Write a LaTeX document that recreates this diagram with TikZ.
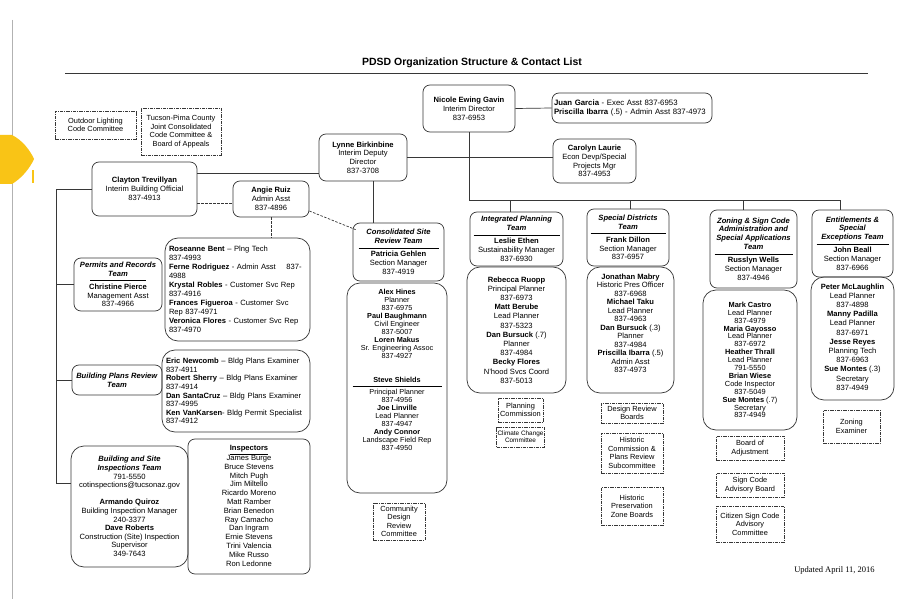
\documentclass[tikz,border=0pt]{standalone}
\usepackage{fontspec}
\setmainfont{Liberation Sans}
\newfontfamily\datefont{Liberation Serif}
\usetikzlibrary{calc,positioning}
\definecolor{linec}{RGB}{55,55,55}
\definecolor{tabcol}{RGB}{249,196,22}
\newcommand{\tm}[1]{\textbf{\textit{#1}}}
\newcommand{\teamrule}[1]{\\[-4pt]\rule{#1}{0.6pt}\\[-0.5pt]}
\newcommand{\topbox}[3]{\parbox[c][#1][t]{#2}{\centering\vspace*{3pt}#3}}

\begin{document}
\begin{tikzpicture}[x=1pt,y=-1pt,
  box/.style={draw=linec, line width=0.7pt, rounded corners=7pt, align=center, inner sep=2pt, font=\fontsize{7.6}{8.8}\selectfont},
  bigbox/.style={box, rounded corners=13pt},
  board/.style={draw=linec, line width=0.7pt, dash pattern=on 3.5pt off 1pt on 1pt off 1pt, align=center, inner sep=1pt, font=\fontsize{7.4}{8.5}\selectfont},
  link/.style={draw=linec, line width=0.7pt},
  aide/.style={link, dash pattern=on 2.5pt off 1.5pt}]
\useasboundingbox (0,0) rectangle (922,599);
\fill[white] (0,0) rectangle (922,599);
\draw[gray!60, line width=0.6pt] (12,20) -- (12,599);
\fill[tabcol] (0,135) -- (12,135) .. controls (22,140) and (30,150) .. (34,159) .. controls (30,168) and (22,178) .. (12,184) -- (0,184) -- cycle;
\fill[tabcol] (32,170) rectangle (34,183);

\node (title) at (472,63) {\fontsize{10.5}{12}\selectfont\bfseries PDSD Organization Structure \& Contact List};
\draw[linec, line width=0.9pt] (65,73) -- (868,73);

% director level
\node[box, minimum width=92, minimum height=47] (nicole) at (469,108.5) {\textbf{Nicole Ewing Gavin}\\Interim Director\\837-6953};
\node[box, align=left, text width=156, inner xsep=2pt, minimum height=30, font=\fontsize{7.8}{9.4}\selectfont] (juan) at (632,108) {\textbf{Juan Garcia} - Exec Asst 837-6953\\\textbf{Priscilla Ibarra} (.5) - Admin Asst 837-4973};
\node[box, minimum width=83, minimum height=44] (carolyn) at (594.5,161) {\textbf{Carolyn Laurie}\\Econ Devp/Special\\Projects Mgr\\837-4953};
\node[box, minimum width=88, minimum height=47] (lynne) at (363,157.5) {\textbf{Lynne Birkinbine}\\Interim Deputy\\Director\\837-3708};
\node[box, minimum width=105, minimum height=54] (clayton) at (144.5,189) {\textbf{Clayton Trevillyan}\\Interim Building Official\\837-4913};
\node[box, minimum width=76, minimum height=36] (angie) at (271,199) {\textbf{Angie Ruiz}\\Admin Asst\\837-4896};

\node[board, minimum width=81, minimum height=28] (outdoor) at (95.5,125) {Outdoor Lighting\\Code Committee};
\node[board, minimum width=80, minimum height=47] (jointcc) at (181,131.5) {Tucson-Pima County\\Joint Consolidated\\Code Committee \&\\Board of Appeals};

% building side
\node[box, minimum width=88, minimum height=53] (permits) at (118,284.5) {\tm{Permits and Records}\\\tm{Team}\teamrule{56pt}\textbf{Christine Pierce}\\Management Asst\\837-4966};
\node[bigbox, align=left, text width=137, inner xsep=4pt, minimum height=103, font=\fontsize{7.6}{9}\selectfont] (roseanne) at (237.5,289.5) {\textbf{Roseanne Bent} -- Plng Tech\\837-4993\\\textbf{Ferne Rodriguez} - Admin Asst \hspace{8pt}837-\\4988\\\textbf{Krystal Robles} - Customer Svc Rep\\837-4916\\\textbf{Frances Figueroa} - Customer Svc\\Rep 837-4971\\\textbf{Veronica Flores} - Customer Svc Rep\\837-4970};
\node[box, minimum width=90, minimum height=30] (bpr) at (117,380) {\tm{Building Plans Review}\\\tm{Team}};
\node[bigbox, align=left, text width=140, inner xsep=4pt, minimum height=82, font=\fontsize{7.6}{8.6}\selectfont] (eric) at (236,391) {\textbf{Eric Newcomb} -- Bldg Plans Examiner\\837-4911\\\textbf{Robert Sherry} -- Bldg Plans Examiner\\837-4914\\\textbf{Dan SantaCruz} -- Bldg Plans Examiner\\837-4995\\\textbf{Ken VanKarsen}- Bldg Permit Specialist\\837-4912};
\node[bigbox, minimum width=117, minimum height=121, font=\fontsize{7.6}{8.6}\selectfont] (bsi) at (129.5,506.5) {\tm{Building and Site}\\\tm{Inspections Team}\\791-5550\\cotinspections@tucsonaz.gov\\[8.6pt]\textbf{Armando Quiroz}\\Building Inspection Manager\\240-3377\\\textbf{Dave Roberts}\\Construction (Site) Inspection\\Supervisor\\349-7643};
\node[box, inner sep=3pt, minimum width=122, minimum height=135, font=\fontsize{7.6}{8.8}\selectfont] (inspectors) at (249,506.5) {\topbox{128pt}{116pt}{\underline{\textbf{Inspectors}}\\James Burge\\Bruce Stevens\\Mitch Pugh\\Jim Miltello\\Ricardo Moreno\\Matt Ramber\\Brian Benedon\\Ray Camacho\\Dan Ingram\\Ernie Stevens\\Trini Valencia\\Mike Russo\\Ron Ledonne}};

% consolidated site review
\node[box, minimum width=91, minimum height=58] (csr) at (398.5,252) {\tm{Consolidated Site}\\\tm{Review Team}\teamrule{80pt}\textbf{Patricia Gehlen}\\Section Manager\\837-4919};
\node[bigbox, inner sep=3pt, minimum width=100, minimum height=210, font=\fontsize{7.3}{8}\selectfont] (csrstaff) at (397,388) {\topbox{203pt}{94pt}{\textbf{Alex Hines}\\Planner\\837-6975\\\textbf{Paul Baughmann}\\Civil Engineer\\837-5007\\\textbf{Loren Makus}\\Sr. Engineering Assoc\\837-4927\\[16pt]\textbf{Steve Shields}\teamrule{89pt}Principal Planner\\837-4956\\\textbf{Joe Linville}\\Lead Planner\\837-4947\\\textbf{Andy Connor}\\Landscape Field Rep\\837-4950}};
\node[board, minimum width=52, minimum height=37] (cdrc) at (399,521.5) {Community\\Design\\Review\\Committee};

% planning teams
\node[box, minimum width=93, minimum height=54] (ipt) at (516.5,239) {\tm{Integrated Planning}\\\tm{Team}\teamrule{86pt}\textbf{Leslie Ethen}\\Sustainability Manager\\837-6930};
\node[bigbox, minimum width=99, minimum height=126, font=\fontsize{7.6}{9.2}\selectfont] (iptstaff) at (516.5,330) {\textbf{Rebecca Ruopp}\\Principal Planner\\837-6973\\\textbf{Matt Berube}\\Lead Planner\\837-5323\\\textbf{Dan Bursuck} (.7)\\Planner\\837-4984\\\textbf{Becky Flores}\\N'hood Svcs Coord\\837-5013};
\node[board, minimum width=45, minimum height=24] (plancom) at (520.5,410) {Planning\\Commission};
\node[board, minimum width=45, minimum height=20, font=\fontsize{6.4}{7.4}\selectfont] (climate) at (520.5,437) {Climate Change\\Committee};

\node[box, minimum width=82, minimum height=57] (sdt) at (628,237.5) {\tm{Special Districts}\\\tm{Team}\teamrule{75pt}\textbf{Frank Dillon}\\Section Manager\\837-6957};
\node[bigbox, inner sep=3pt, minimum width=87, minimum height=126, font=\fontsize{7.6}{8.5}\selectfont] (sdtstaff) at (630.5,330) {\topbox{119pt}{81pt}{\textbf{Jonathan Mabry}\\Historic Pres Officer\\837-6968\\\textbf{Michael Taku}\\Lead Planner\\837-4963\\\textbf{Dan Bursuck} (.3)\\Planner\\837-4984\\\textbf{Priscilla Ibarra} (.5)\\Admin Asst\\837-4973}};
\node[board, minimum width=62, minimum height=20] (drb) at (632,413) {Design Review\\Boards};
\node[board, minimum width=62, minimum height=40] (hcprs) at (632,453) {Historic\\Commission \&\\Plans Review\\Subcommittee};
\node[board, minimum width=62, minimum height=38] (hpzb) at (632,506) {Historic\\Preservation\\Zone Boards};

\node[box, minimum width=87, minimum height=78] (zst) at (753.5,249) {\tm{Zoning \& Sign Code}\\\tm{Administration and}\\\tm{Special Applications}\\\tm{Team}\teamrule{78pt}\textbf{Russlyn Wells}\\Section Manager\\837-4946};
\node[bigbox, minimum width=94, minimum height=140, font=\fontsize{7.4}{7.9}\selectfont] (zststaff) at (750,360) {\textbf{Mark Castro}\\Lead Planner\\837-4979\\\textbf{Maria Gayosso}\\Lead Planner\\837-6972\\\textbf{Heather Thrall}\\Lead Planner\\791-5550\\\textbf{Brian Wiese}\\Code Inspector\\837-5049\\\textbf{Sue Montes} (.7)\\Secretary\\837-4949};
\node[board, minimum width=68, minimum height=24] (boa) at (750,448) {Board of\\Adjustment};
\node[board, minimum width=68, minimum height=24] (scab) at (750,485) {Sign Code\\Advisory Board};
\node[board, minimum width=68, minimum height=36] (cscac) at (750,524) {Citizen Sign Code\\Advisory\\Committee};

\node[box, minimum width=81, minimum height=67] (ent) at (852.5,243.5) {\tm{Entitlements \&}\\\tm{Special}\\\tm{Exceptions Team}\teamrule{72pt}\textbf{John Beall}\\Section Manager\\837-6966};
\node[bigbox, inner sep=3pt, minimum width=81, minimum height=123, font=\fontsize{7.6}{9.2}\selectfont] (entstaff) at (852.5,338.5) {\topbox{116pt}{77pt}{\textbf{Peter McLaughlin}\\Lead Planner\\837-4898\\\textbf{Manny Padilla}\\Lead Planner\\837-6971\\\textbf{Jesse Reyes}\\Planning Tech\\837-6963\\\textbf{Sue Montes} (.3)\\Secretary\\837-4949}};
\node[board, minimum width=57, minimum height=33] (zexam) at (851.5,426.5) {Zoning\\Examiner};

\node[font=\datefont\fontsize{8.5}{10}\selectfont] (updated) at (834.5,570) {Updated April 11, 2016};

% connectors
\draw[link] (nicole.east) -- (juan.west);
\draw[link] (lynne.east) -- (lynne.east -| carolyn.west);
\coordinate (bus) at (nicole.south |- 0,200);
\draw[link] (nicole.south) -- (bus) -| ([xshift=-12.5pt]ent.north);
\foreach \t/\s in {ipt/-6.5pt, sdt/2pt, zst/-10.5pt}
  \draw[link] ([xshift=\s]\t.north) |- (bus);
\draw[link] ([yshift=-15.5pt]lynne.west) coordinate (lc) -- (lc -| clayton.east);
\draw[link] ([xshift=10pt]lynne.south) coordinate (ls) -- (ls |- csr.north);
\draw[link] (clayton.west) -- ++(-35,0) coordinate (cbus) |- ([yshift=23.5pt]bsi.west);
\draw[link] (cbus |- permits.west) -- (permits.west);
\draw[link] (cbus |- bpr.west) -- (bpr.west);
\draw[aide] ([yshift=-14pt]clayton.east) coordinate (ca) -- (ca -| angie.west);
\draw[aide] (angie.south) -- (angie.south |- roseanne.north);
\draw[aide] ([yshift=-12pt]angie.east) -- ([xshift=3pt,yshift=-7pt]csr.north west);
\end{tikzpicture}
\end{document}
